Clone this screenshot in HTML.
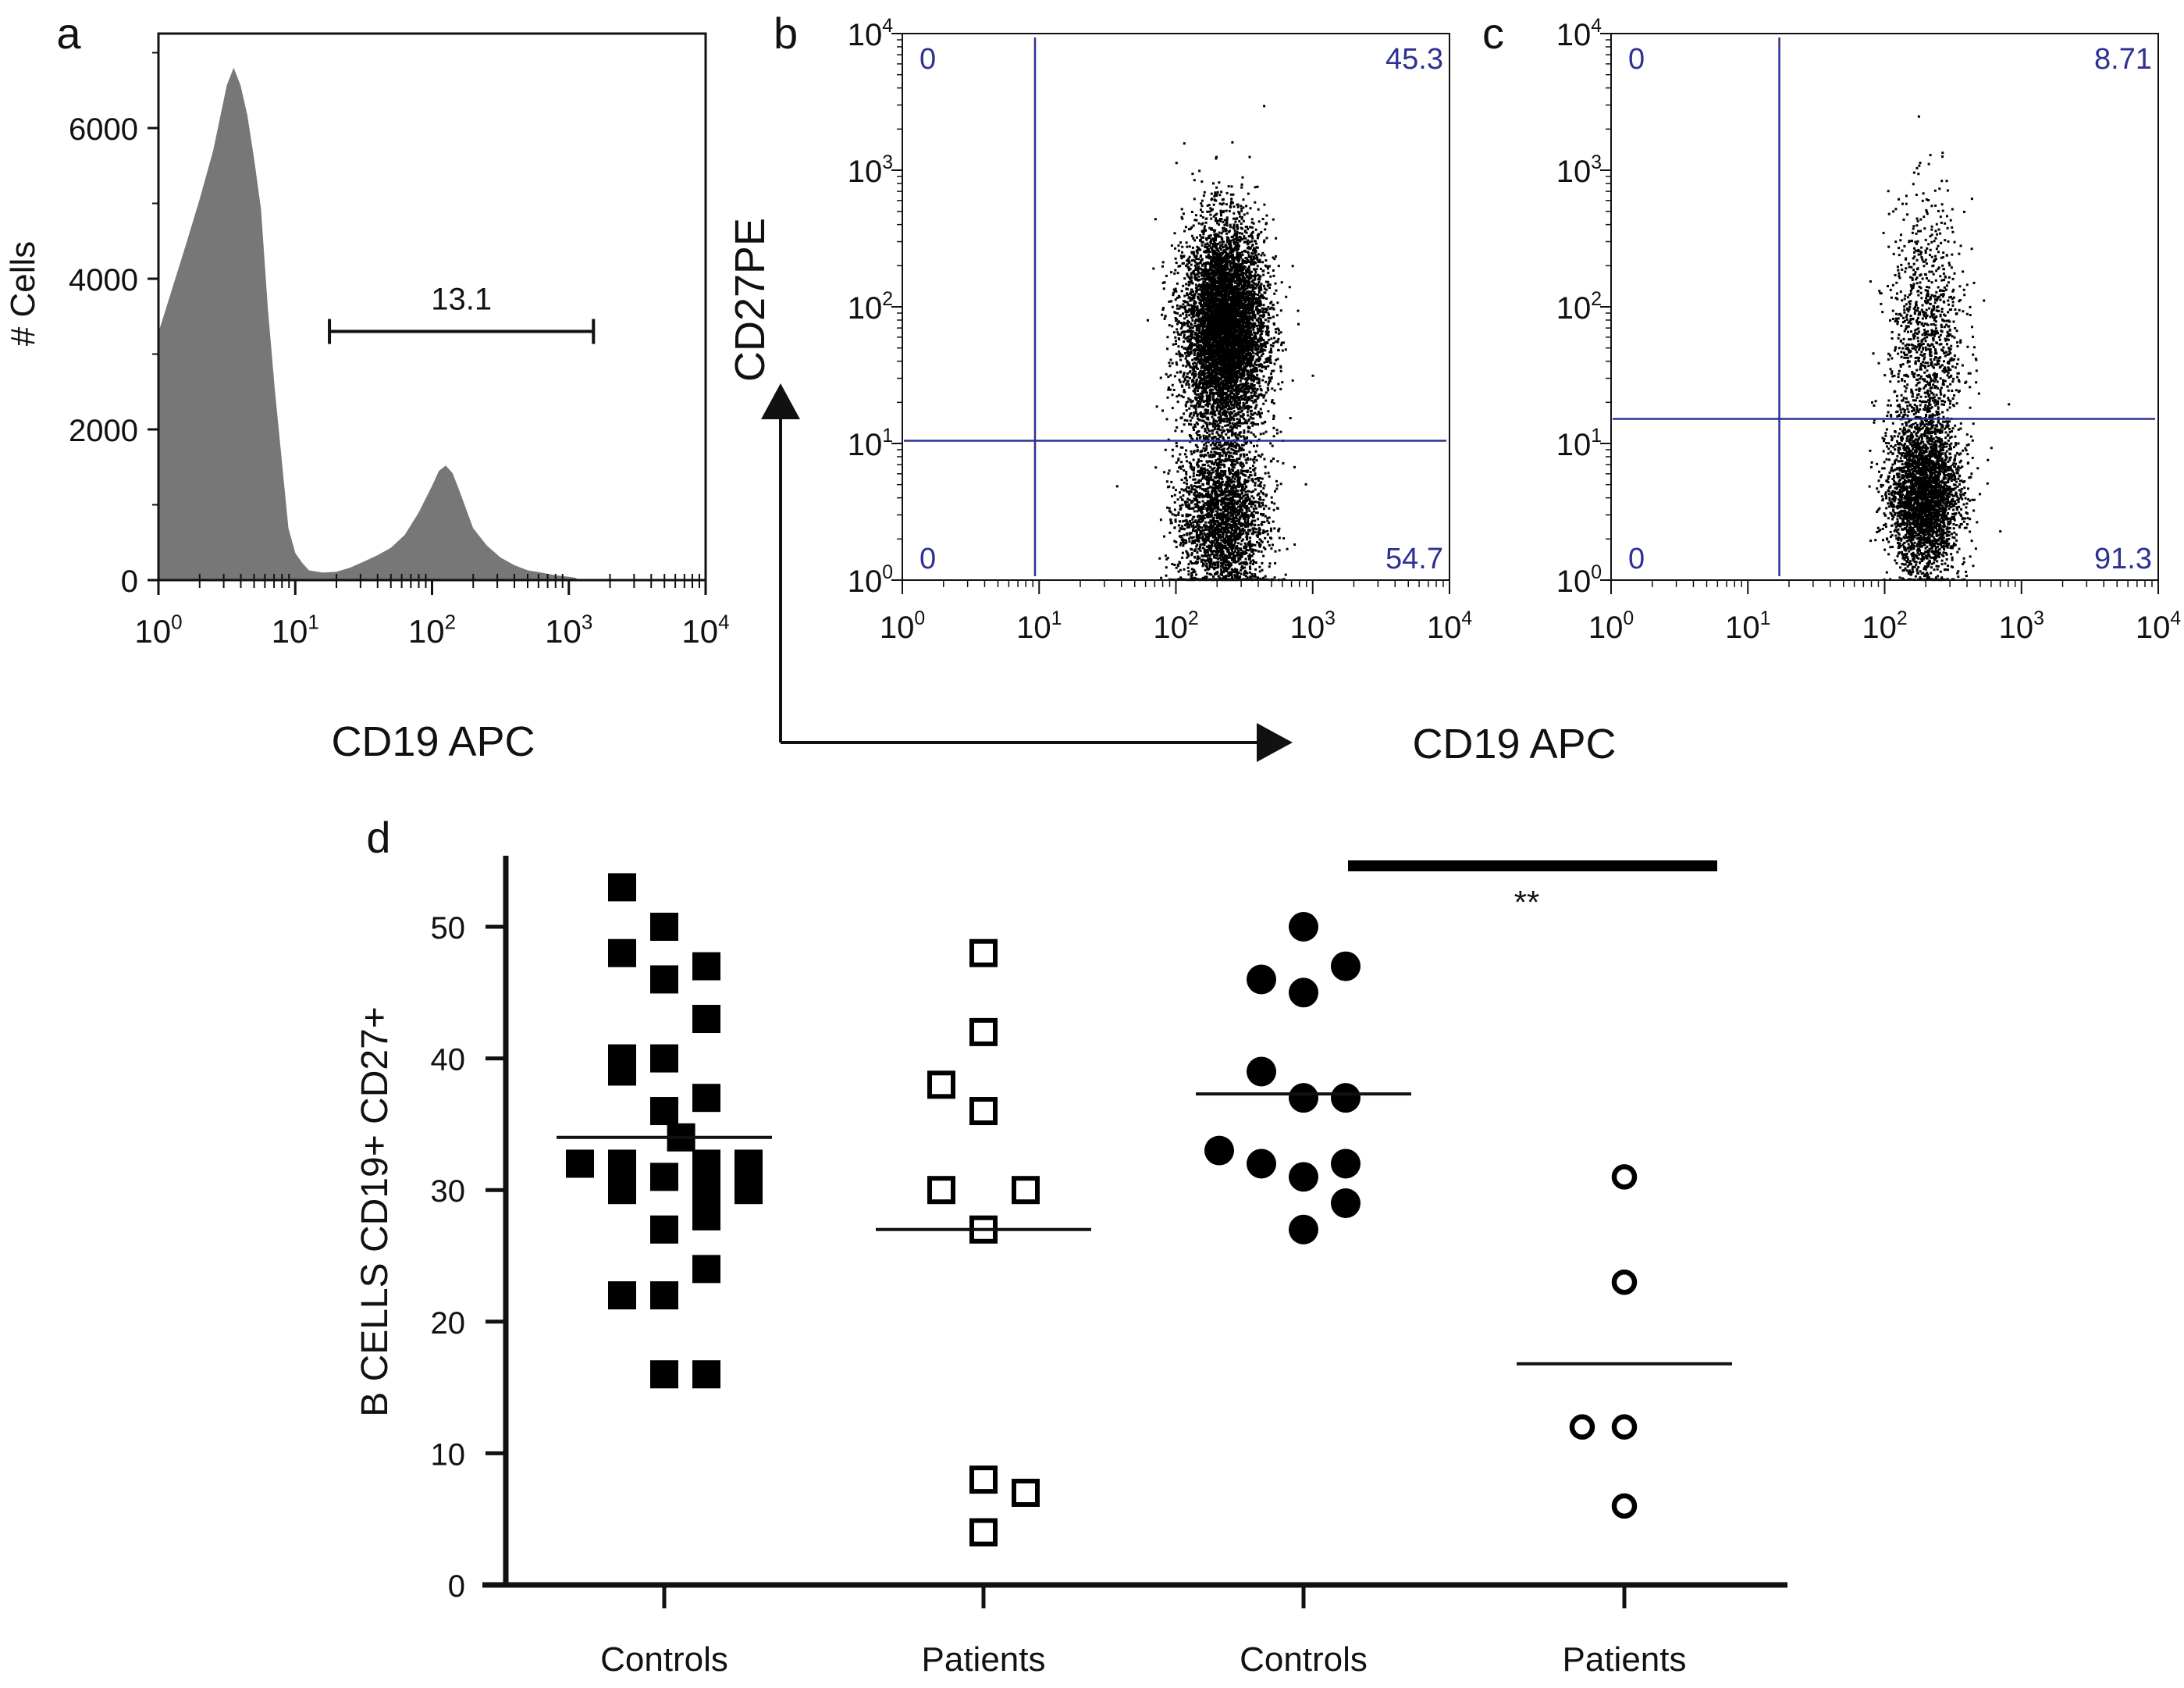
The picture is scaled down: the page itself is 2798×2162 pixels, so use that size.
<!DOCTYPE html>
<html><head><meta charset="utf-8">
<style>
html,body{margin:0;padding:0;background:#fff;}
svg{display:block;font-family:"Liberation Sans",Arial,sans-serif;}
</style></head>
<body>
<svg id="fig" width="2798" height="2162" viewBox="0 0 2798 2162" xmlns="http://www.w3.org/2000/svg">
<rect width="2798" height="2162" fill="#fff"/>
<g id="pa"></g>
<g id="pb"></g>
<g id="pc"></g>
<g id="pd"></g>
</svg>
<script>
// ---------- Panel a data ----------
const histLogX = [0.0,0.02,0.2,0.3,0.4,0.5,0.55,0.6,0.65,0.7,0.75,0.8,0.85,0.9,0.95,1.0,1.05,1.1,1.2,1.3,1.4,1.5,1.6,1.7,1.8,1.9,2.0,2.05,2.1,2.15,2.2,2.3,2.4,2.5,2.6,2.7,2.8,2.9,3.0,3.05,3.07];
const histCounts = [3300,3400,4450,5050,5700,6570,6800,6570,6170,5580,4920,3600,2540,1620,690,360,230,130,100,110,165,245,330,430,600,890,1250,1450,1520,1420,1190,690,460,300,200,130,100,65,45,30,0];
const histYTicks = [0,2000,4000,6000];
const gateA = {from:1.25, to:3.18, label:"13.1", level:3300};
const decadeTicks = [0,1,2,3,4];
// ---------- Panel b/c populations (cluster params) ----------
const popB_cx=[2.35,2.33], popB_cy=[1.85,0.45], popB_sx=[0.15,0.16], popB_sy=[0.38,0.32], popB_n=[6500,6000];
const popC_cx=[2.28,2.30], popC_cy=[0.62,1.75], popC_sx=[0.13,0.14], popC_sy=[0.28,0.5], popC_n=[8000,1100];
const gateB = {x:0.97, y:1.02, q:["0","45.3","0","54.7"]};
const gateC = {x:1.23, y:1.18, q:["0","8.71","0","91.3"]};
// ---------- Panel d data ----------
const dCategories = ["Controls","Patients","Controls","Patients"];
const dYTicks = [0,10,20,30,40,50];
const g1Values = [53,50,48,47,46,43,40,39,40,37,36,34,32,32,30,31,32,30,32,30,28,27,24,22,22,16,16];
const g1Slots  = [-1,0,-1,1,0,1,-1,-1,0,1,0,0.4,-2,-1,-1,0,1,1,2,2,1,0,1,-1,0,0,1];
const g2Values = [48,42,38,36,30,30,27,8,7,4];
const g2Slots  = [0,0,-1,0,-1,1,0,0,1,0];
const g3Values = [50,47,46,45,39,37,37,33,32,31,32,29,27];
const g3Slots  = [0,1,-1,0,-1,0,1,-2,-1,0,1,1,0];
const g4Values = [31,23,12,12,6];
const g4Slots  = [0,0,-1,0,0];
const dMedians = [34,27,37.3,16.8];

const NS="http://www.w3.org/2000/svg";
function mk(parent, tag, attrs, name){
  const e=document.createElementNS(NS,tag);
  for(const k in attrs) e.setAttribute(k,attrs[k]);
  
  
  parent.appendChild(e); return e;
}
function txt(parent, x, y, s, size, name, anchor, fill){
  const t=mk(parent,'text',{x:x,y:y,'font-size':size,'text-anchor':anchor||'middle',fill:fill||'#111'},name);
  t.textContent=s; return t;
}
function pow10(parent,x,y,exp,size,name,anchor){
  const t=mk(parent,'text',{x:x,y:y,'font-size':size,'text-anchor':anchor||'middle',fill:'#111'},name);
  const a=document.createElementNS(NS,'tspan'); a.textContent='10'; t.appendChild(a);
  const b=document.createElementNS(NS,'tspan'); b.setAttribute('font-size',size*0.62); b.setAttribute('dy',-size*0.42); b.textContent=String(exp); t.appendChild(b);
  return t;
}

// ---------- Panel a ----------
(function(){
  const g=document.getElementById('pa');
  const L=203,R=904,T=43,B=743;
  const xs=v=>L+v*(R-L)/4, ys=c=>B-c*(193/2000);
  let d='M'+xs(histLogX[0])+' '+B;
  histLogX.forEach((v,i)=>{d+=' L'+xs(v).toFixed(1)+' '+ys(histCounts[i]).toFixed(1);});
  d+=' L'+xs(histLogX[histLogX.length-1])+' '+B+' Z';
  mk(g,'path',{d:d,fill:'#777','stroke':'none'},'histogram-area');
  mk(g,'rect',{x:L,y:T,width:R-L,height:B-T,fill:'none',stroke:'#111','stroke-width':3},'plot-frame');
  histYTicks.forEach(c=>{
    mk(g,'line',{x1:L-14,x2:L,y1:ys(c),y2:ys(c),stroke:'#111','stroke-width':3},'y-tick');
    txt(g,L-26,ys(c)+15,String(c),40,'y-tick-label','end');
  });
  for(let c=1000;c<=7000;c+=2000){mk(g,'line',{x1:L-8,x2:L,y1:ys(c),y2:ys(c),stroke:'#111','stroke-width':2},'y-minor-tick');}
  decadeTicks.forEach(k=>{
    mk(g,'line',{x1:xs(k),x2:xs(k),y1:B,y2:B+19,stroke:'#111','stroke-width':3},'x-tick');
    pow10(g,xs(k),B+80,k,42,'x-tick-label');
    if(k<4) for(let m=2;m<10;m++){const x=xs(k+Math.log10(m));mk(g,'line',{x1:x,x2:x,y1:B-8,y2:B+10,stroke:'#111','stroke-width':2},'x-minor-tick');}
  });
  const gx1=xs(gateA.from), gx2=xs(gateA.to), gy=ys(gateA.level);
  mk(g,'line',{x1:gx1,x2:gx2,y1:gy,y2:gy,stroke:'#111','stroke-width':4},'gate-bar');
  mk(g,'line',{x1:gx1,x2:gx1,y1:gy-16,y2:gy+16,stroke:'#111','stroke-width':4},'gate-bar-left-end');
  mk(g,'line',{x1:gx2,x2:gx2,y1:gy-16,y2:gy+16,stroke:'#111','stroke-width':4},'gate-bar-right-end');
  txt(g,(gx1+gx2)/2,gy-28,gateA.label,40,'gate-percentage');
  txt(g,555,968,'CD19 APC',54,'x-axis-title');
  const yt=txt(g,0,0,'# Cells',44,'y-axis-title'); yt.setAttribute('transform','translate(44,376) rotate(-90)');
  txt(g,88,62,'a',56,'panel-label-a');
})();

// ---------- Panels b, c ----------
let seed=12345;
function rnd(){seed=(seed*1103515245+12345)%2147483648;return seed/2147483648;}
function gauss(){let u=rnd()||1e-9,v=rnd();return Math.sqrt(-2*Math.log(u))*Math.cos(2*Math.PI*v);}
function scatterPanel(id,L,cx,cy,sx,sy,n,gate,label){
  const g=document.getElementById(id);
  const R=L+701,T=43,B=743;
  const xs=v=>L+v*(R-L)/4, ys=v=>B-v*(B-T)/4;
  let d='';
  for(let p=0;p<cx.length;p++){
    for(let i=0;i<n[p];i++){
      let x=cx[p]+sx[p]*gauss(), y=cy[p]+sy[p]*gauss();
      if(y>3.9||x<0||x>3.95) continue;
      if(y<0.01) y=0.01+rnd()*0.005;
      d+='M'+xs(x).toFixed(1)+' '+ys(y).toFixed(1)+'h3v3h-3z';
    }
  }
  mk(g,'path',{d:d,fill:'#000'},'event-dots');
  const blue='#2e3192';
  mk(g,'line',{x1:xs(gate.x),x2:xs(gate.x),y1:T+5,y2:B-5,stroke:blue,'stroke-width':2.5},'quadrant-gate-vertical');
  mk(g,'line',{x1:L+2,x2:R-4,y1:ys(gate.y),y2:ys(gate.y),stroke:blue,'stroke-width':2.5},'quadrant-gate-horizontal');
  txt(g,L+22,T+45,gate.q[0],38,'quadrant-ul-value','start',blue);
  txt(g,R-8,T+45,gate.q[1],38,'quadrant-ur-value','end',blue);
  txt(g,L+22,B-15,gate.q[2],38,'quadrant-ll-value','start',blue);
  txt(g,R-8,B-15,gate.q[3],38,'quadrant-lr-value','end',blue);
  mk(g,'rect',{x:L,y:T,width:R-L,height:B-T,fill:'none',stroke:'#111','stroke-width':2},'plot-frame');
  decadeTicks.forEach(k=>{
    mk(g,'line',{x1:xs(k),x2:xs(k),y1:B,y2:B+18,stroke:'#111','stroke-width':2},'x-tick');
    pow10(g,xs(k),B+74,k,40,'x-tick-label');
    mk(g,'line',{x1:L-14,x2:L,y1:ys(k),y2:ys(k),stroke:'#111','stroke-width':2},'y-tick');
    pow10(g,L-12,ys(k)+15,k,40,'y-tick-label','end');
    if(k<4) for(let m=2;m<10;m++){
      const x=xs(k+Math.log10(m)), y=ys(k+Math.log10(m));
      mk(g,'line',{x1:x,x2:x,y1:B,y2:B+9,stroke:'#111','stroke-width':1.5},'x-minor-tick');
      mk(g,'line',{x1:L-7,x2:L,y1:y,y2:y,stroke:'#111','stroke-width':1.5},'y-minor-tick');
    }
  });
  txt(g,L-165,62,label,56,'panel-label-'+label,'start');
}
scatterPanel('pb',1156,popB_cx,popB_cy,popB_sx,popB_sy,popB_n,gateB,'b');
scatterPanel('pc',2064,popC_cx,popC_cy,popC_sx,popC_sy,popC_n,gateC,'c');
(function(){
  const g=document.getElementById('pb');
  mk(g,'path',{d:'M1000 951 L1000 530 M1000 951 L1615 951',fill:'none',stroke:'#111','stroke-width':4},'axes-arrow-lines');
  mk(g,'path',{d:'M1000 491 L975 537 L1025 537 Z',fill:'#111'},'y-arrow-head');
  mk(g,'path',{d:'M1656 951 L1610 926 L1610 976 Z',fill:'#111'},'x-arrow-head');
  const t=txt(g,0,0,'CD27PE',54,'y-axis-title-cd27pe'); t.setAttribute('transform','translate(979,384) rotate(-90)');
  txt(g,1940,971,'CD19 APC',54,'x-axis-title-cd19');
})();

// ---------- Panel d ----------
(function(){
  const g=document.getElementById('pd');
  const X0=648, Y0=2030, perUnit=(2030-1187)/50;
  const cats=[851,1260,1670,2081], slot=54;
  const ys=v=>Y0-v*perUnit, xs=(c,s)=>cats[c]+s*slot;
  mk(g,'line',{x1:X0,x2:X0,y1:1096,y2:Y0+3,stroke:'#111','stroke-width':7},'y-axis-line');
  mk(g,'line',{x1:618,x2:2290,y1:Y0,y2:Y0,stroke:'#111','stroke-width':7},'x-axis-line');
  dYTicks.forEach(v=>{
    mk(g,'line',{x1:X0-26,x2:X0,y1:ys(v),y2:ys(v),stroke:'#111','stroke-width':5},'y-tick');
    txt(g,596,ys(v)+15,String(v),40,'y-tick-label','end');
  });
  dCategories.forEach((c,i)=>{
    mk(g,'line',{x1:cats[i],x2:cats[i],y1:Y0,y2:Y0+30,stroke:'#111','stroke-width':5},'x-tick');
    txt(g,cats[i],2140,c,44,'category-label-'+(i+1));
  });
  const S=36;
  g1Values.forEach((v,i)=>mk(g,'rect',{x:xs(0,g1Slots[i])-S/2,y:ys(v)-S/2,width:S,height:S,fill:'#000'},'controls-square-point'));
  g2Values.forEach((v,i)=>mk(g,'rect',{x:xs(1,g2Slots[i])-S/2+3,y:ys(v)-S/2+3,width:S-6,height:S-6,fill:'#fff',stroke:'#000','stroke-width':6},'patients-open-square-point'));
  g3Values.forEach((v,i)=>mk(g,'circle',{cx:xs(2,g3Slots[i]),cy:ys(v),r:19,fill:'#000'},'controls-circle-point'));
  g4Values.forEach((v,i)=>mk(g,'circle',{cx:xs(3,g4Slots[i]),cy:ys(v),r:13,fill:'#fff',stroke:'#000','stroke-width':6.5},'patients-open-circle-point'));
  dMedians.forEach((m,i)=>mk(g,'line',{x1:cats[i]-138,x2:cats[i]+138,y1:ys(m),y2:ys(m),stroke:'#111','stroke-width':4},'median-line-'+(i+1)));
  mk(g,'rect',{x:1727,y:1102,width:473,height:14,fill:'#000'},'significance-bar');
  txt(g,1956,1170,'**',42,'significance-stars');
  const t=txt(g,0,0,'B CELLS CD19+ CD27+',48,'y-axis-title'); t.setAttribute('transform','translate(496,1552) rotate(-90)');
  txt(g,485,1092,'d',56,'panel-label-d');
})();
</script>
</body></html>
